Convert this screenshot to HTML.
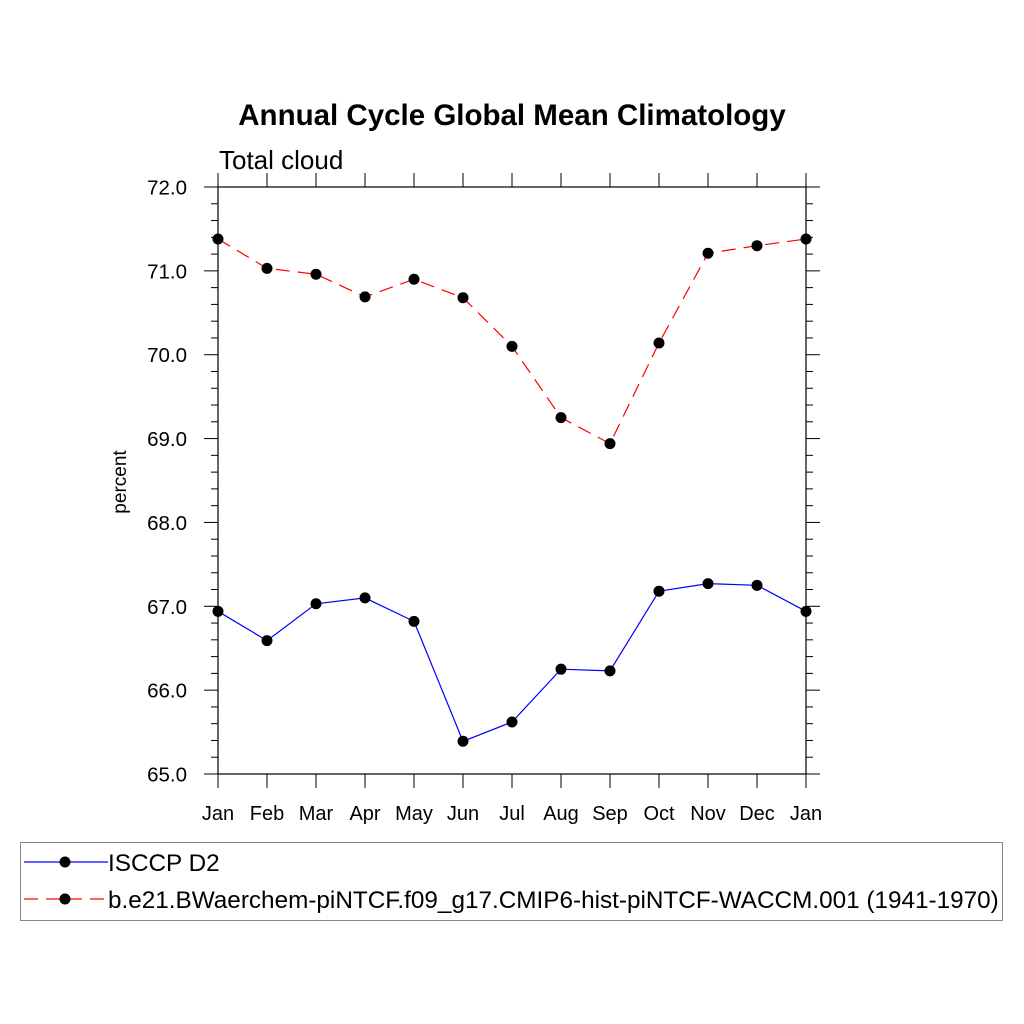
<!DOCTYPE html>
<html><head><meta charset="utf-8"><style>
body{margin:0;background:#fff}
svg{display:block;font-family:"Liberation Sans",sans-serif}
</style></head><body>
<svg id="chart" width="1024" height="1024" viewBox="0 0 1024 1024">
<text x="512" y="125" text-anchor="middle" font-size="29.5" font-weight="bold">Annual Cycle Global Mean Climatology</text>
<text x="219" y="169" font-size="26">Total cloud</text>
<text transform="translate(126,482) rotate(-90)" text-anchor="middle" font-size="19">percent</text>
<g id="axes"></g>
<g id="series"></g>
<rect x="20.5" y="842.5" width="982" height="78" fill="none" stroke="#888" stroke-width="1"/>
<g>
<line x1="24" y1="862" x2="108" y2="862" stroke="#00f" stroke-width="1.2"/>
<circle cx="65" cy="862" r="5.5" fill="#000"/>
<text x="108" y="871" font-size="24.3">ISCCP D2</text>
</g>
<g>
<line x1="24" y1="899" x2="108" y2="899" stroke="#f00" stroke-width="1.2" stroke-dasharray="14,8"/>
<circle cx="65" cy="899" r="5.5" fill="#000"/>
<text x="108" y="908" font-size="24.3">b.e21.BWaerchem-piNTCF.f09_g17.CMIP6-hist-piNTCF-WACCM.001 (1941-1970)</text>
</g>
</svg>
<script>
const months=["Jan","Feb","Mar","Apr","May","Jun","Jul","Aug","Sep","Oct","Nov","Dec","Jan"];
const isccpValues=[66.94,66.59,67.03,67.10,66.82,65.39,65.62,66.25,66.23,67.18,67.27,67.25,66.94];
const modelValues=[71.38,71.03,70.96,70.69,70.90,70.68,70.10,69.25,68.94,70.14,71.21,71.30,71.38];
const yTicks=[65,66,67,68,69,70,71,72];
const yTickLabels=["65.0","66.0","67.0","68.0","69.0","70.0","71.0","72.0"];
const X0=218,X1=806,Y0=774,Y1=187,YMIN=65,YMAX=72;
const ns="http://www.w3.org/2000/svg";
function xs(i){return X0+(X1-X0)*i/(months.length-1);}
function ys(v){return Y0-(Y0-Y1)*(v-YMIN)/(YMAX-YMIN);}
function mk(tag,attrs,parent){const e=document.createElementNS(ns,tag);for(const k in attrs)e.setAttribute(k,attrs[k]);parent.appendChild(e);return e;}
const axes=document.getElementById('axes');
const frame=mk('rect',{x:X0,y:Y1,width:X1-X0,height:Y0-Y1,fill:'none',stroke:'#000','stroke-width':1.2},axes);


for(let v=YMIN;v<=YMAX+1e-9;v+=0.2){
  const y=ys(v);const major=Math.abs(v-Math.round(v))<1e-6;const L=major?14:7;
  mk('line',{x1:X0-L,y1:y,x2:X0,y2:y,stroke:'#000','stroke-width':1},axes);
  mk('line',{x1:X1,y1:y,x2:X1+L,y2:y,stroke:'#000','stroke-width':1},axes);
}
yTicks.forEach((v,i)=>{
  const t=mk('text',{x:X0-31,y:ys(v)+7.5,'text-anchor':'end','font-size':20.5},axes);
  t.textContent=yTickLabels[i];
  
  
});
months.forEach((m,i)=>{
  const x=xs(i);
  mk('line',{x1:x,y1:Y1-14,x2:x,y2:Y1,stroke:'#000','stroke-width':1},axes);
  mk('line',{x1:x,y1:Y0,x2:x,y2:Y0+14,stroke:'#000','stroke-width':1},axes);
  const t=mk('text',{x:x,y:Y0+46,'text-anchor':'middle','font-size':20},axes);
  t.textContent=m;
  
  
});
const series=document.getElementById('series');
function draw(vals,color,dash,name){
  const g=mk('g',{},series);
  
  
  const pts=vals.map((v,i)=>xs(i)+','+ys(v)).join(' ');
  const a={points:pts,fill:'none',stroke:color,'stroke-width':1.2};
  if(dash)a['stroke-dasharray']=dash;
  mk('polyline',a,g);
  vals.forEach((v,i)=>{
    const c=mk('circle',{cx:xs(i),cy:ys(v),r:5.5,fill:'#000'},g);
    
    
  });
}
draw(modelValues,'#f00','14,8','model-series');
draw(isccpValues,'#00f',null,'isccp-series');
</script>
</body></html>
